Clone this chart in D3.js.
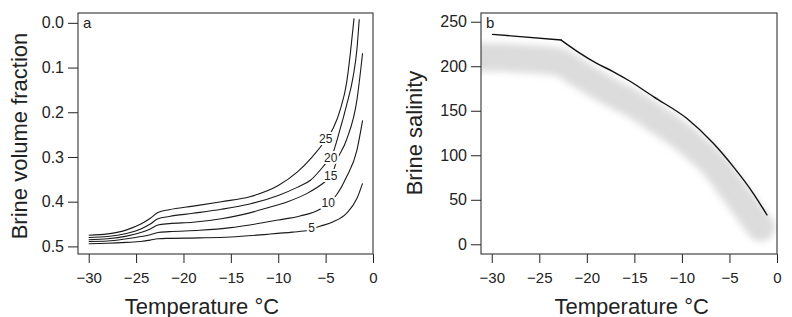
<!DOCTYPE html>
<html>
<head>
<meta charset="utf-8">
<script src="https://cdn.jsdelivr.net/npm/d3@7"></script>
<style>
body { margin: 0; background: #fff; }
svg { display: block; font-family: "Liberation Sans", Arial, sans-serif; }
</style>
</head>
<body>
<div id="chart"></div>
<script>
// ---- data ----
const xTicks = [-30, -25, -20, -15, -10, -5, 0];
const fracTicks = [0, 0.1, 0.2, 0.3, 0.4, 0.5];
const salTicks = [0, 50, 100, 150, 200, 250];

// panel a: brine volume fraction vs temperature, one curve per bulk salinity
const tempS5 = [-30, -28, -26, -24.5, -23.5, -22.7, -21.5, -18.3, -15, -11.2, -8.5, -6.8, -5.6, -4.2, -2.8, -1.7, -1.1];
const fracS5 = [0.494, 0.493, 0.491, 0.489, 0.486, 0.483, 0.482, 0.481, 0.479, 0.473, 0.468, 0.464, 0.455, 0.445, 0.426, 0.393, 0.359];

const tempS10 = [-30, -28, -26, -24.5, -23.5, -22.7, -21.5, -18.3, -15, -13, -10, -7.7, -5.6, -4.8, -4.0, -2.8, -1.7, -1.1];
const fracS10 = [0.489, 0.488, 0.483, 0.478, 0.474, 0.469, 0.467, 0.464, 0.458, 0.452, 0.441, 0.432, 0.417, 0.404, 0.389, 0.345, 0.285, 0.218];

const tempS15 = [-30, -28, -26, -24.5, -23.5, -22.7, -21.5, -19, -16, -13, -11.2, -9, -7, -5.1, -4.4, -3.8, -2.8, -1.7, -1.1];
const fracS15 = [0.485, 0.483, 0.477, 0.469, 0.461, 0.452, 0.449, 0.446, 0.438, 0.425, 0.414, 0.400, 0.382, 0.356, 0.343, 0.307, 0.262, 0.173, 0.068];

const tempS20 = [-30, -28, -26, -24.5, -23.5, -22.7, -21.5, -19, -16, -13, -10, -8, -6.6, -5, -4.4, -3.5, -2.8, -2.1, -1.7, -1.45];
const fracS20 = [0.480, 0.478, 0.471, 0.461, 0.450, 0.438, 0.433, 0.426, 0.417, 0.405, 0.386, 0.368, 0.352, 0.315, 0.300, 0.240, 0.185, 0.121, 0.06, -0.008];

const tempS25 = [-30, -28, -26, -24.5, -23.5, -22.7, -21.5, -19, -16, -13, -10, -8, -6.5, -5, -4.2, -3.4, -2.8, -2.4, -2.0];
const fracS25 = [0.475, 0.472, 0.463, 0.450, 0.437, 0.424, 0.418, 0.410, 0.400, 0.389, 0.364, 0.334, 0.302, 0.262, 0.236, 0.19, 0.136, 0.07, -0.01];

const salinities = ['5', '10', '15', '20', '25'];
const labelTemp = [-6.47, -4.72, -4.46, -4.46, -4.99];
const labelFrac = [0.458, 0.4036, 0.3426, 0.3034, 0.2605];

// panel b: brine salinity vs temperature
const salTempLow = [-29.9, -22.7];
const salLow = [235.8, 229.4];
const salTempHigh = [-22.7, -20.7, -19, -17.2, -15.5, -13, -9.5, -6.7, -4.6, -2.5, -1.05];
const salHigh = [229.4, 214.5, 203.5, 193.8, 183.4, 165.8, 141.5, 113.4, 87.2, 57.3, 32.9];
// grey shaded band under the curve
const bandTemp = [-31.5, -30, -26, -23, -20.7, -19, -17, -15, -13, -10, -8, -6.7, -5, -4, -2.5, -1.7];
const bandSal = [210, 210, 208, 205, 191, 180, 168, 157, 143, 121, 103, 90, 66, 52, 30, 19];

// ---- drawing ----
const W = 792, H = 317;
const plotTop = 13, plotBottom = 254;

const svg = d3.select('#chart').append('svg')
    .attr('width', W)
    .attr('height', H);

const defs = svg.append('defs');
defs.append('filter')
    .attr('id', 'soft')
    .attr('x', '-20%').attr('y', '-20%')
    .attr('width', '140%').attr('height', '140%')
    .append('feGaussianBlur')
    .attr('stdDeviation', 3.5);

function panel(cfg) {
    const x = d3.scaleLinear().domain([-31.13, 0]).range([cfg.left, cfg.right]);
    const y = d3.scaleLinear().domain(cfg.yDomain).range([plotTop, plotBottom]);
    const g = svg.append('g');

    defs.append('clipPath')
        .attr('id', cfg.id + '-clip')
        .append('rect')
        .attr('x', cfg.left)
        .attr('y', plotTop)
        .attr('width', cfg.right - cfg.left)
        .attr('height', plotBottom - plotTop);

    const plot = g.append('g').attr('clip-path', `url(#${cfg.id}-clip)`);

    const xa = g.append('g')
        .attr('transform', `translate(0,${plotBottom})`)
        .call(d3.axisBottom(x).tickValues(xTicks).tickSize(9).tickPadding(9).tickFormat(d3.format('d')));

    const ya = g.append('g')
        .attr('transform', `translate(${cfg.left},0)`)
        .call(d3.axisLeft(y).tickValues(cfg.yTicks).tickSize(10).tickPadding(4).tickFormat(cfg.yFormat));

    [xa, ya].forEach(a => {
        a.select('.domain').remove();
        a.selectAll('.tick line').attr('stroke', '#222');
        a.selectAll('.tick text')
            .attr('fill', '#222')
            .style('font-family', '"Liberation Sans", Arial, sans-serif');
    });
    xa.selectAll('.tick text').style('font-size', '15px');
    ya.selectAll('.tick text').style('font-size', '16px');

    g.append('rect')
        .attr('x', cfg.left)
        .attr('y', plotTop)
        .attr('width', cfg.right - cfg.left)
        .attr('height', plotBottom - plotTop)
        .attr('fill', 'none')
        .attr('stroke', '#333')
        .attr('stroke-width', 1.1);

    g.append('text')
        .attr('x', cfg.xTitleX)
        .attr('y', 313.5)
        .attr('text-anchor', 'middle')
        .attr('fill', '#222')
        .style('font-size', '22px')
        .text('Temperature °C');

    g.append('text')
        .attr('transform', `translate(${cfg.yTitleX},${cfg.yTitleY}) rotate(-90)`)
        .attr('text-anchor', 'middle')
        .attr('fill', '#222')
        .style('font-size', '22px')
        .text(cfg.yTitle);

    g.append('text')
        .attr('x', cfg.left + 5)
        .attr('y', 28)
        .attr('fill', '#222')
        .style('font-size', '15px')
        .text(cfg.letter);

    return { x, y, g, plot };
}

// panel a
const pa = panel({
    id: 'a', left: 78, right: 373,
    yDomain: [-0.022, 0.517], yTicks: fracTicks, yFormat: d3.format('.1f'),
    xTitleX: 202, yTitleX: 27, yTitleY: 136,
    yTitle: 'Brine volume fraction', letter: 'a'
});

const fracLine = d3.line()
    .x(d => pa.x(d[0]))
    .y(d => pa.y(d[1]))
    .curve(d3.curveMonotoneX);

const curvesA = [
    d3.zip(tempS5, fracS5),
    d3.zip(tempS10, fracS10),
    d3.zip(tempS15, fracS15),
    d3.zip(tempS20, fracS20),
    d3.zip(tempS25, fracS25)
];

pa.g.selectAll('path.frac')
    .data(curvesA)
    .enter()
    .append('path')
    .attr('class', 'frac')
    .attr('d', fracLine)
    .attr('fill', 'none')
    .attr('stroke', '#1a1a1a')
    .attr('stroke-width', 1.1);

pa.g.selectAll('text.lab')
    .data(salinities)
    .enter()
    .append('text')
    .attr('class', 'lab')
    .attr('x', (d, i) => pa.x(labelTemp[i]))
    .attr('y', (d, i) => pa.y(labelFrac[i]))
    .attr('text-anchor', 'middle')
    .attr('dominant-baseline', 'central')
    .attr('fill', '#222')
    .attr('stroke', '#fff')
    .attr('stroke-width', 4)
    .attr('paint-order', 'stroke')
    .style('font-size', '12px')
    .text(d => d);

// panel b
const pb = panel({
    id: 'b', left: 481, right: 777,
    yDomain: [259.8, -10.9], yTicks: salTicks, yFormat: d3.format('d'),
    xTitleX: 631.7, yTitleX: 422, yTitleY: 133,
    yTitle: 'Brine salinity', letter: 'b'
});

const salLine = d3.line()
    .x(d => pb.x(d[0]))
    .y(d => pb.y(d[1]))
    .curve(d3.curveMonotoneX);

pb.plot.append('path')
    .attr('d', salLine(d3.zip(bandTemp, bandSal)))
    .attr('fill', 'none')
    .attr('stroke', '#dcdcdc')
    .attr('stroke-width', 28)
    .attr('stroke-linecap', 'round')
    .attr('filter', 'url(#soft)');

pb.g.append('path')
    .attr('d', d3.line().x(d => pb.x(d[0])).y(d => pb.y(d[1]))(d3.zip(salTempLow, salLow)))
    .attr('fill', 'none')
    .attr('stroke', '#111')
    .attr('stroke-width', 1.4)
    .attr('stroke-linecap', 'round');

pb.g.append('path')
    .attr('d', salLine(d3.zip(salTempHigh, salHigh)))
    .attr('fill', 'none')
    .attr('stroke', '#111')
    .attr('stroke-width', 1.4)
    .attr('stroke-linecap', 'round');
</script>
</body>
</html>
